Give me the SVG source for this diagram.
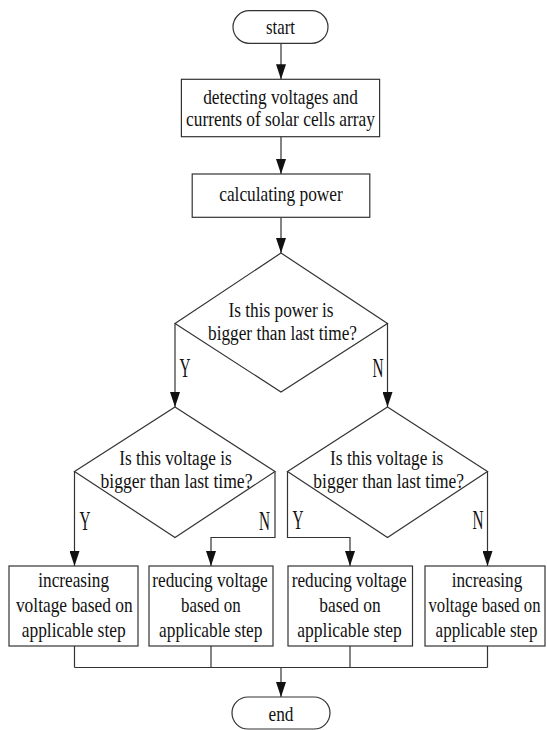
<svg xmlns="http://www.w3.org/2000/svg" width="547" height="730" viewBox="0 0 547 730">
<defs>
<style>
.shape{fill:#fff;stroke:#333;stroke-width:1.2}
.conn{fill:none;stroke:#333;stroke-width:1.2}
text{font-family:"Liberation Serif","Times New Roman",serif;font-size:21px;fill:#111;text-anchor:middle}
.dt{font-size:20px}
.lbl{font-size:27px}
</style>
<marker id="arr" markerUnits="userSpaceOnUse" markerWidth="15" markerHeight="10" refX="15" refY="5" orient="auto">
<path d="M0,0 L15,5 L0,10 z" fill="#111"/>
</marker>
</defs>
<rect width="547" height="730" fill="#fff"/>

<g id="connectors">
<line class="conn" x1="281" y1="43.3" x2="281" y2="79.3" marker-end="url(#arr)"/>
<line class="conn" x1="281" y1="136.7" x2="281" y2="174" marker-end="url(#arr)"/>
<line class="conn" x1="281" y1="217.3" x2="281" y2="253" marker-end="url(#arr)"/>
<polyline class="conn" points="175,323.5 175,407" marker-end="url(#arr)"/>
<polyline class="conn" points="387.5,323.5 387.5,407" marker-end="url(#arr)"/>
<polyline class="conn" points="74.5,471.5 74.5,566" marker-end="url(#arr)"/>
<polyline class="conn" points="275,471.5 275,537.5 211,537.5 211,566" marker-end="url(#arr)"/>
<polyline class="conn" points="287.5,471.5 287.5,537.5 350,537.5 350,566" marker-end="url(#arr)"/>
<polyline class="conn" points="487.5,471.5 487.5,566" marker-end="url(#arr)"/>
<line class="conn" x1="74.5" y1="646" x2="74.5" y2="667.5"/>
<line class="conn" x1="211" y1="646" x2="211" y2="667.5"/>
<line class="conn" x1="350" y1="646" x2="350" y2="667.5"/>
<line class="conn" x1="487.5" y1="646" x2="487.5" y2="667.5"/>
<line class="conn" x1="74.5" y1="667.5" x2="487.5" y2="667.5"/>
<line class="conn" x1="281" y1="667.5" x2="281" y2="697" marker-end="url(#arr)"/>
<text class="lbl" x="185" y="377" textLength="11" lengthAdjust="spacingAndGlyphs">Y</text>
<text class="lbl" x="378" y="377" textLength="11" lengthAdjust="spacingAndGlyphs">N</text>
<text class="lbl" x="85" y="530" textLength="11" lengthAdjust="spacingAndGlyphs">Y</text>
<text class="lbl" x="264.5" y="530" textLength="11" lengthAdjust="spacingAndGlyphs">N</text>
<text class="lbl" x="298" y="529" textLength="11" lengthAdjust="spacingAndGlyphs">Y</text>
<text class="lbl" x="478" y="529" textLength="11" lengthAdjust="spacingAndGlyphs">N</text>
</g>

<g id="start">
<rect class="shape" x="233" y="10.7" width="95" height="32.6" rx="16.3"/>
<text x="280.5" y="33.5" textLength="29" lengthAdjust="spacingAndGlyphs">start</text>
</g>

<g id="detect">
<rect class="shape" x="181.4" y="79.3" width="198.2" height="57.4"/>
<text x="280.5" y="103.5" textLength="154.6" lengthAdjust="spacingAndGlyphs">detecting voltages and</text>
<text x="280.5" y="125.5" textLength="189" lengthAdjust="spacingAndGlyphs">currents of solar cells array</text>
</g>

<g id="calc">
<rect class="shape" x="192.2" y="174" width="177.6" height="43.3"/>
<text x="281" y="201" textLength="123.6" lengthAdjust="spacingAndGlyphs">calculating power</text>
</g>

<g id="dec-power">
<polygon class="shape" points="281,253 387.5,323.5 281,392 175,323.5"/>
<text class="dt" x="281" y="317" textLength="105" lengthAdjust="spacingAndGlyphs">Is this power is</text>
<text class="dt" x="282.5" y="340" textLength="149" lengthAdjust="spacingAndGlyphs">bigger than last time?</text>
</g>

<g id="dec-volt-left">
<polygon class="shape" points="175,407 275,471.5 175,537.5 74.5,471.5"/>
<text class="dt" x="175.5" y="465" textLength="112.3" lengthAdjust="spacingAndGlyphs">Is this voltage is</text>
<text class="dt" x="176.5" y="487.5" textLength="152" lengthAdjust="spacingAndGlyphs">bigger than last time?</text>
</g>

<g id="dec-volt-right">
<polygon class="shape" points="387.5,407 487.5,471.5 387.5,537.5 287.5,471.5"/>
<text class="dt" x="386.7" y="465" textLength="113.3" lengthAdjust="spacingAndGlyphs">Is this voltage is</text>
<text class="dt" x="388.7" y="487.5" textLength="150.7" lengthAdjust="spacingAndGlyphs">bigger than last time?</text>
</g>

<g id="inc-left">
<rect class="shape" x="9" y="566" width="129" height="80"/>
<text x="73.7" y="587" textLength="70.7" lengthAdjust="spacingAndGlyphs">increasing</text>
<text x="74.3" y="612" textLength="116.7" lengthAdjust="spacingAndGlyphs">voltage based on</text>
<text x="73.7" y="637" textLength="104" lengthAdjust="spacingAndGlyphs">applicable step</text>
</g>

<g id="red-left">
<rect class="shape" x="149" y="566" width="124" height="80"/>
<text x="210" y="587" textLength="115.3" lengthAdjust="spacingAndGlyphs">reducing voltage</text>
<text x="210.8" y="612" textLength="59.7" lengthAdjust="spacingAndGlyphs">based on</text>
<text x="210.7" y="637" textLength="103.3" lengthAdjust="spacingAndGlyphs">applicable step</text>
</g>

<g id="red-right">
<rect class="shape" x="288" y="566" width="124.5" height="80"/>
<text x="349.2" y="587" textLength="115" lengthAdjust="spacingAndGlyphs">reducing voltage</text>
<text x="350" y="612" textLength="61.4" lengthAdjust="spacingAndGlyphs">based on</text>
<text x="349.5" y="637" textLength="104.4" lengthAdjust="spacingAndGlyphs">applicable step</text>
</g>

<g id="inc-right">
<rect class="shape" x="425" y="566" width="120" height="80"/>
<text x="487" y="587" textLength="70.6" lengthAdjust="spacingAndGlyphs">increasing</text>
<text transform="translate(484.5,612) scale(0.794,1)" x="0" y="0">voltage based on</text>
<text transform="translate(486.5,637) scale(0.813,1)" x="0" y="0">applicable step</text>
</g>

<g id="end">
<rect class="shape" x="232" y="697" width="98" height="32" rx="16"/>
<text x="281" y="720.5" textLength="25" lengthAdjust="spacingAndGlyphs">end</text>
</g>
</svg>
